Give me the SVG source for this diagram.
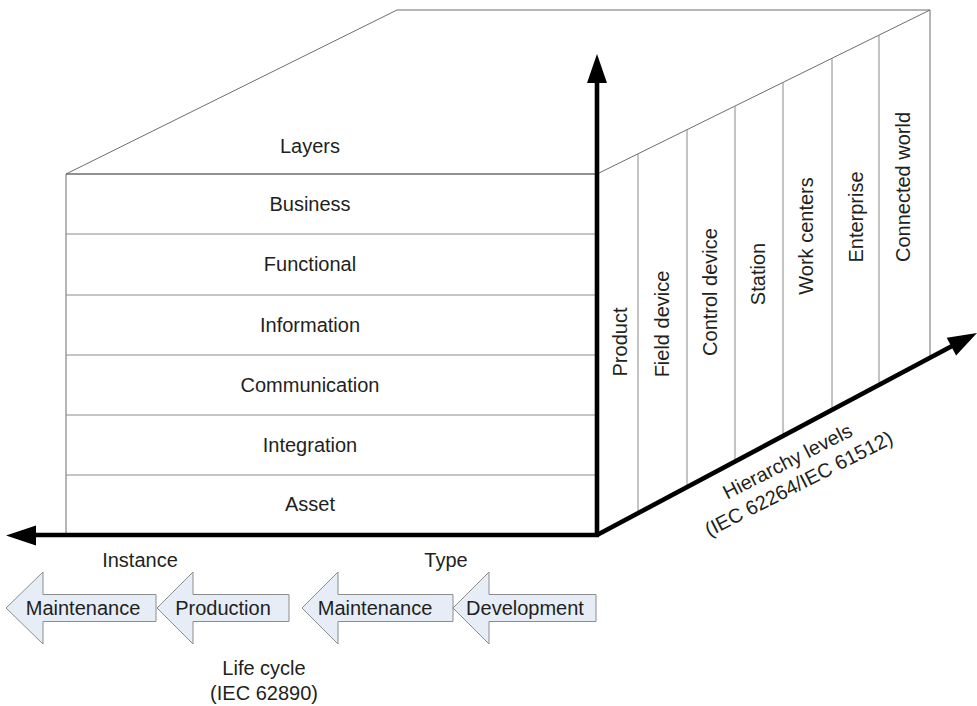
<svg xmlns="http://www.w3.org/2000/svg" width="977" height="706" viewBox="0 0 977 706">
<defs>
<style>
.t{font-family:"Liberation Sans",Arial,sans-serif;font-size:20px;fill:#231f20;text-anchor:middle}
.edge{fill:none;stroke:#6d6d6d;stroke-width:1}
.sep{fill:none;stroke:#8a8a8a;stroke-width:1}
.axis{fill:none;stroke:#000;stroke-width:4.6}
.head{fill:#000;stroke:none}
.blk{fill:#e6edf7;stroke:#8c8c8c;stroke-width:1}
</style>
</defs>
<rect width="977" height="706" fill="#fff"/>

<g id="cube">
<path class="edge" d="M66,174 L397,10 L930,10 L597,174 Z"/>
<path class="edge" d="M66,174 L597,174 M66,174 L66,535 M930,10 L930,358"/>
</g>

<g id="layers-title"><text class="t" x="310" y="153">Layers</text></g>
<g id="layer-business"><line class="sep" x1="66" y1="234" x2="597" y2="234"/><text class="t" x="310" y="211">Business</text></g>
<g id="layer-functional"><line class="sep" x1="66" y1="295" x2="597" y2="295"/><text class="t" x="310" y="271">Functional</text></g>
<g id="layer-information"><line class="sep" x1="66" y1="355" x2="597" y2="355"/><text class="t" x="310" y="332">Information</text></g>
<g id="layer-communication"><line class="sep" x1="66" y1="415" x2="597" y2="415"/><text class="t" x="310" y="392">Communication</text></g>
<g id="layer-integration"><line class="sep" x1="66" y1="475" x2="597" y2="475"/><text class="t" x="310" y="452">Integration</text></g>
<g id="layer-asset"><text class="t" x="310" y="511">Asset</text></g>

<g id="level-product"><line class="sep" x1="638" y1="153.8" x2="638" y2="513.2"/><text class="t" transform="translate(627,342) rotate(-90)">Product</text></g>
<g id="level-field-device"><line class="sep" x1="687" y1="129.7" x2="687" y2="487.2"/><text class="t" transform="translate(669,324) rotate(-90)">Field device</text></g>
<g id="level-control-device"><line class="sep" x1="735" y1="106" x2="735" y2="461.6"/><text class="t" transform="translate(717,292) rotate(-90)">Control device</text></g>
<g id="level-station"><line class="sep" x1="783" y1="82.4" x2="783" y2="436.1"/><text class="t" transform="translate(765,274) rotate(-90)">Station</text></g>
<g id="level-work-centers"><line class="sep" x1="832" y1="58.3" x2="832" y2="410.1"/><text class="t" transform="translate(813,236) rotate(-90)">Work centers</text></g>
<g id="level-enterprise"><line class="sep" x1="879" y1="35.1" x2="879" y2="385.1"/><text class="t" transform="translate(863,217) rotate(-90)">Enterprise</text></g>
<g id="level-connected-world"><text class="t" transform="translate(910,187) rotate(-90)">Connected world</text></g>

<g id="connectors">
<line class="axis" x1="597" y1="535" x2="597" y2="80"/>
<polygon class="head" points="597,54 587,83 607,83"/>
<line class="axis" x1="599" y1="535" x2="33" y2="535"/>
<polygon class="head" points="6,535.5 36,525.5 36,545.5"/>
<line class="axis" x1="597" y1="535" x2="954" y2="345"/>
<polygon class="head" points="977,333 946.7,337.8 956.1,355.5"/>
</g>

<g id="hierarchy-label" transform="translate(790.5,467.5) rotate(-27)">
<text class="t" x="0" y="0">Hierarchy levels</text>
<text class="t" x="0" y="25">(IEC 62264/IEC 61512)</text>
</g>

<g id="instance-label"><text class="t" x="140" y="567">Instance</text></g>
<g id="type-label"><text class="t" x="446" y="567">Type</text></g>

<g id="lc-instance-maintenance"><path class="blk" d="M6,608 L43,572 L43,594.5 L156,594.5 L156,621.5 L43,621.5 L43,644 Z"/><text class="t" x="83" y="615">Maintenance</text></g>
<g id="lc-production"><path class="blk" d="M157,608 L193,572 L193,594.5 L289,594.5 L289,621.5 L193,621.5 L193,644 Z"/><text class="t" x="223" y="615">Production</text></g>
<g id="lc-type-maintenance"><path class="blk" d="M302,608 L338,572 L338,594.5 L453,594.5 L453,621.5 L338,621.5 L338,644 Z"/><text class="t" x="375" y="615">Maintenance</text></g>
<g id="lc-development"><path class="blk" d="M453,608 L489,572 L489,594.5 L596,594.5 L596,621.5 L489,621.5 L489,644 Z"/><text class="t" x="525" y="615">Development</text></g>

<g id="lifecycle-label">
<text class="t" x="264" y="675">Life cycle</text>
<text class="t" x="264" y="700">(IEC 62890)</text>
</g>
</svg>
